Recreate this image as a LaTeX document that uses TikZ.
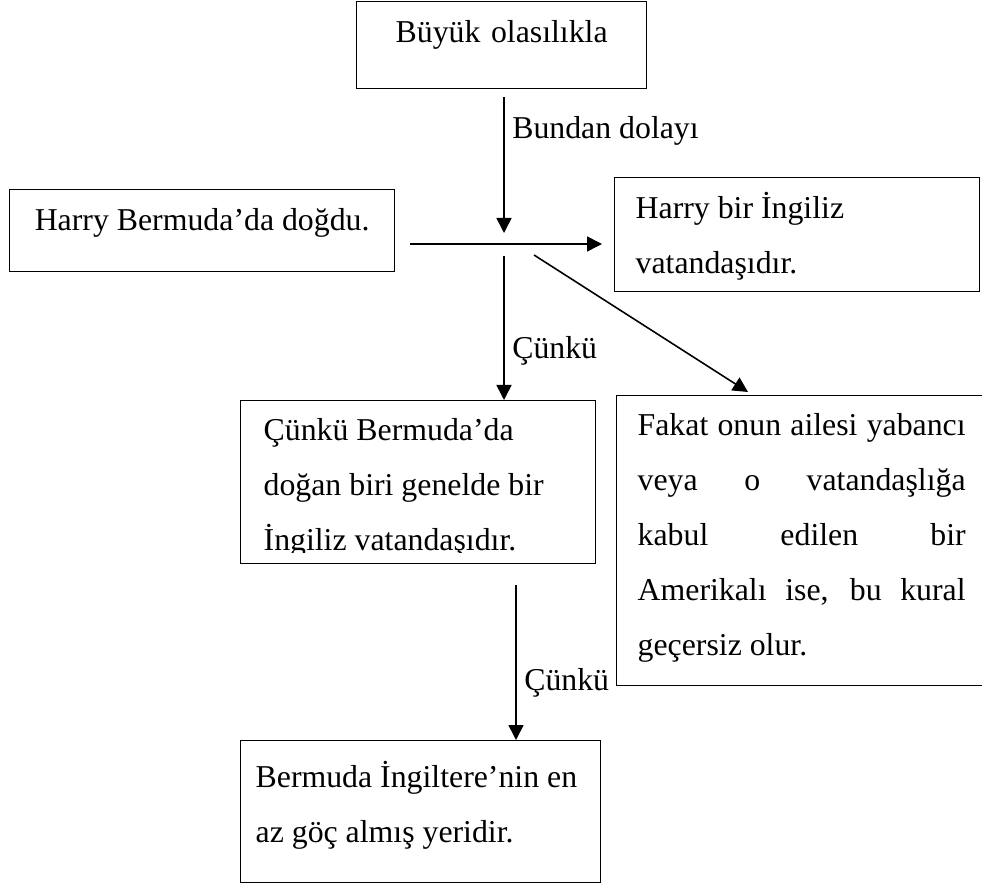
\documentclass[tikz,border=0pt]{standalone}
\usepackage{fontspec}
\setmainfont{Liberation Serif}
\usetikzlibrary{arrows.meta}
\tolerance=10000
\begin{document}
\begin{tikzpicture}
\tikzstyle{box} = [draw=black, line width=0.75pt, anchor=north west, inner ysep=0pt, align=flush left, font=\fontsize{18.1}{31.3}\selectfont]
\tikzstyle{link} = [draw=black, line width=0.9pt, -{Triangle[length=0.3cm,width=0.3cm]}]
\tikzstyle{lbl} = [right, inner sep=0.15cm, font=\fontsize{18.1}{31.3}\selectfont]

\useasboundingbox (0,0) rectangle (19.64,17.66);

\node[box, inner xsep=0.2cm, text width=5.4cm, text height=0.82cm, text depth=0.92cm, align=center] (claim) at (7.12,17.64) {Büyük olasılıkla};
\node[box, minimum width=7.7cm, text height=0.82cm, text depth=0.82cm] (born) at (0.18,13.88) {Harry Bermuda’da doğdu.};
\node[box, inner xsep=0.42cm, text width=6.46cm, text height=0.82cm, text depth=1.46cm] (citizen) at (12.28,14.12) {Harry bir İngiliz\\ vatandaşıdır.};
\node[box, inner xsep=0.46cm, text width=6.18cm, text height=0.8cm, text depth=2.46cm] (reason) at (4.8,9.66) {Çünkü Bermuda’da\\ doğan biri genelde bir\\ İngiliz vatandaşıdır.};
\node[box, inner xsep=0.42cm, text width=6.56cm, text height=0.8cm, text depth=5.0cm, align=justify] (rebuttal) at (12.32,9.76) {Fakat onun ailesi yabancı\linebreak veya o vatandaşlığa\linebreak kabul edilen bir\linebreak Amerikalı ise, bu kural\linebreak geçersiz olur.};
\node[box, inner xsep=0.3cm, text width=6.6cm, text height=0.94cm, text depth=1.9cm] (backing) at (4.8,2.86) {Bermuda İngiltere’nin en\\ az göç almış yeridir.};

% the last line of the reason box is cut off
\fill[white] (4.83,6.43) rectangle (11.87,6.6);

\coordinate (c1) at (10.08,15.72);
\coordinate (c2) at (10.08,13.0);
\coordinate (h1) at (8.2,12.78);
\coordinate (h2) at (12.04,12.78);
\coordinate (v1) at (10.08,12.54);
\coordinate (d1) at (10.68,12.56);
\coordinate (d2) at (14.96,9.82);
\coordinate (w1) at (10.32,5.96);

\draw[link] (c1) to node[lbl, pos=0.25]{Bundan dolayı} (c2);
\draw[link] (h1) to (h2);
\draw[link] (v1) to node[lbl, pos=0.66]{Çünkü} (v1 |- reason.north);
\draw[link] (d1) to (d2);
\draw[link] (w1) to node[lbl, pos=0.63]{Çünkü} (w1 |- backing.north);
\end{tikzpicture}
\end{document}
